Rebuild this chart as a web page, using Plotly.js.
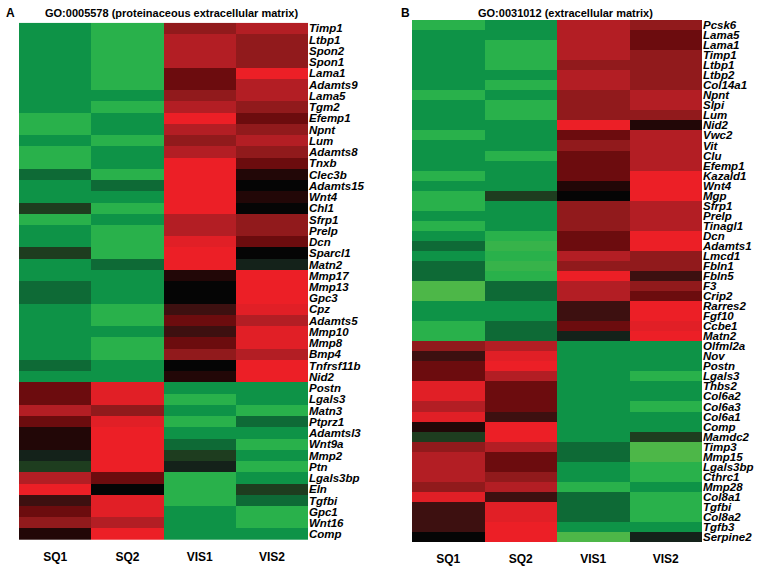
<!DOCTYPE html>
<html><head><meta charset="utf-8">
<script src="https://cdn.plot.ly/plotly-3.0.1.min.js"></script>
<style>html,body{margin:0;padding:0;background:#fff}</style>
</head><body><div id="chart" style="width:762px;height:566px"></div>
<script>
const samples = ['SQ1','SQ2','VIS1','VIS2'];

const genesA = ['Timp1','Ltbp1','Spon2','Spon1','Lama1','Adamts9','Lama5','Tgm2','Efemp1','Npnt','Lum','Adamts8','Tnxb','Clec3b','Adamts15','Wnt4','Chl1','Sfrp1','Prelp','Dcn','Sparcl1','Matn2','Mmp17','Mmp13','Gpc3','Cpz','Adamts5','Mmp10','Mmp8','Bmp4','Tnfrsf11b','Nid2','Postn','Lgals3','Matn3','Ptprz1','Adamtsl3','Wnt9a','Mmp2','Ptn','Lgals3bp','Eln','Tgfbi','Gpc1','Wnt16','Comp'];
const aSQ1  = [-1.5,-1.5,-1.5,-1.5,-1.5,-1.5,-1.5,-1.5,-2,-2,-1.5,-2,-2,-1,-1.5,-1.5,-0.5,-2,-1.5,-1.5,-0.5,-1.5,-1.5,-1,-1,-1.5,-1.5,-1.5,-1.5,-1.5,-1,-1.5, 1,1,2,1,0.25,0.25,-0.25,-0.5,2,2.5,0.5,1,1.5,0.25];
const aSQ2  = [-2,-2,-2,-2,-2,-2,-1.5,-2,-1.5,-1.5,-2,-1.5,-1.5,-2,-1,-1.5,-2,-1.5,-2,-2,-2,-1,-1.5,-1.5,-1.5,-2,-2,-1.5,-2,-2,-1.5,-1.5, 2.4,2.4,1.5,2.4,2.5,2.5,2.5,2.5,1,0,2.4,2.4,2,2.5];
const aVIS1 = [1.5,2,2,2,1,1,1.5,2,2.5,2,1.5,2,2.5,2.5,2.5,2.5,2.5,2,2,2.4,2.5,2.5,0.25,0,0,0.5,1,0.5,1,1.5,0,0.25, -1.5,-2,-1.5,-2,-1.5,-1,-0.5,-0.25,-2,-2,-2,-1.5,-1.5,-1.5];
const aVIS2 = [2,1.5,1.5,1.5,2.5,2,2,1.5,1,1.5,2,1.5,1,0.25,0,0.25,0,1.5,1.5,1,0,-0.25,2.5,2.5,2.5,2.4,2,2.4,2.4,2,2.5,2.5, -1.5,-1.5,-2,-1,-1.5,-2,-1.5,-2,-1.5,-0.5,-1,-2,-2,-1.5];

const genesB = ['Pcsk6','Lama5','Lama1','Timp1','Ltbp1','Ltbp2','Col14a1','Npnt','Slpi','Lum','Nid2','Vwc2','Vit','Clu','Efemp1','Kazald1','Wnt4','Mgp','Sfrp1','Prelp','Tinagl1','Dcn','Adamts1','Lmcd1','Fbln1','Fbln5','F3','Crip2','Rarres2','Fgf10','Ccbe1','Matn2','Olfml2a','Nov','Postn','Lgals3','Thbs2','Col6a2','Col6a3','Col6a1','Comp','Mamdc2','Timp3','Mmp15','Lgals3bp','Cthrc1','Mmp28','Col8a1','Tgfbi','Col8a2','Tgfb3','Serpine2'];
const bSQ1  = [-2,-1.5,-1.5,-1.5,-1.5,-1.5,-1.5,-2,-1.5,-1.5,-1.5,-2,-1.5,-1.5,-1.5,-2,-1.5,-2,-2,-1.5,-2,-1.5,-1,-1.5,-1,-1,-2.5,-2.5,-1.5,-1.5,-2,-2, 1.5,0.5,1,1,2.4,2.4,2,2.4,0.25,-0.5,1.5,2,2,2,1.5,2.4,0.5,0.5,0.5,0];
const bSQ2  = [-1.5,-1.5,-2,-2,-2,-1.5,-2,-1.5,-2,-2,-1.5,-1.5,-1.5,-2,-1.5,-1.5,-1.5,-0.5,-1.5,-1.5,-1.5,-2,-2.2,-2,-2.2,-2,-1,-1,-1.5,-1.5,-1,-1, 2,2.4,2.5,2,1,1,1,0.5,2.5,2.5,2,1,1,1.5,2,0.5,2.4,2.4,2.5,2.5];
const bVIS1 = [2,2,2,2,1.5,2,2,1.5,1.5,1.5,2.5,1,1.5,1,1,1,0.25,0,1.5,1.5,1.5,1,1,2,1.5,2.5,2,2,0.5,0.5,1,-0.25, -1.5,-1.5,-1.5,-1.5,-1.5,-1.5,-1.5,-1.5,-1.5,-1.5,-1,-1,-1.5,-1.5,-2,-1,-1,-1,-1.5,-2.5];
const bVIS2 = [1.5,1,1,1.5,1.5,1.5,1.5,2,2,1.5,0.25,2,2,2,2,2.5,2.5,2.5,2,2,2,2.5,2.5,1.5,1.5,0.5,1.5,1,2.5,2.5,2.4,2.5, -1.5,-1.5,-1.5,-2,-1.5,-1.5,-2,-1.5,-1.5,-0.5,-2.5,-2.5,-2,-2,-1.5,-2,-2,-2,-1.5,-0.25];

function matrix(genes, cols) { return genes.map((g, i) => cols.map(c => c[i])); }

const cscale = [
  [0.00,'#4db748'],[0.10,'#29b14b'],[0.20,'#0e9347'],[0.30,'#0e6a36'],[0.40,'#1e3d1f'],[0.45,'#14221a'],
  [0.50,'#050505'],[0.55,'#220707'],[0.60,'#3d1010'],[0.70,'#6c0c0e'],[0.80,'#911a1c'],[0.90,'#b31e24'],[1.00,'#ec1f26']
];

const common = {type:'heatmap', x: samples, colorscale: cscale, zmin:-2.5, zmax:2.5, showscale:false, zsmooth:false, hoverongaps:false};

const traces = [
  Object.assign({}, common, {z: matrix(genesA,[aSQ1,aSQ2,aVIS1,aVIS2]), y: genesA, xaxis:'x', yaxis:'y'}),
  Object.assign({}, common, {z: matrix(genesB,[bSQ1,bSQ2,bVIS1,bVIS2]), y: genesB, xaxis:'x2', yaxis:'y2'})
];

const tickFontY = {family:'Liberation Sans, Arial, sans-serif', size:11.5, color:'#000', weight:'bold', style:'italic'};
const tickFontX = {family:'Liberation Sans, Arial, sans-serif', size:12, color:'#000', weight:'bold'};
const xBase = {showgrid:false, zeroline:false, showline:false, ticks:'outside', ticklen:6, tickcolor:'rgba(0,0,0,0)', tickfont:tickFontX, fixedrange:true};
const yBase = {showgrid:false, zeroline:false, showline:false, ticks:'', side:'right', autorange:'reversed', tickfont:tickFontY, fixedrange:true, type:'category', tickmode:'array'};

const W = 762, H = 566;
const layout = {
  width: W, height: H,
  margin:{l:0,r:0,t:0,b:0},
  paper_bgcolor:'#fff', plot_bgcolor:'#fff',
  xaxis: Object.assign({}, xBase, {domain:[19/W, 308/W], anchor:'y'}),
  yaxis: Object.assign({}, yBase, {domain:[1-540/H, 1-22.7/H], anchor:'x', tickvals: genesA, ticktext: genesA}),
  xaxis2: Object.assign({}, xBase, {domain:[412/W, 702/W], anchor:'y2'}),
  yaxis2: Object.assign({}, yBase, {domain:[1-542/H, 1-20/H], anchor:'x2', tickvals: genesB, ticktext: genesB}),
  annotations: [
    {text:'<b>A</b>', xref:'paper', yref:'paper', x:10/W, y:1-13/H, showarrow:false, xanchor:'center', yanchor:'middle', font:{family:'Liberation Sans, Arial', size:12, color:'#000'}},
    {text:'<b>GO:0005578 (proteinaceous extracellular matrix)</b>', xref:'paper', yref:'paper', x:171/W, y:1-13/H, showarrow:false, xanchor:'center', yanchor:'middle', font:{family:'Liberation Sans, Arial', size:11, color:'#000'}},
    {text:'<b>B</b>', xref:'paper', yref:'paper', x:405/W, y:1-13/H, showarrow:false, xanchor:'center', yanchor:'middle', font:{family:'Liberation Sans, Arial', size:12, color:'#000'}},
    {text:'<b>GO:0031012 (extracellular matrix)</b>', xref:'paper', yref:'paper', x:565/W, y:1-13/H, showarrow:false, xanchor:'center', yanchor:'middle', font:{family:'Liberation Sans, Arial', size:11, color:'#000'}}
  ]
};

Plotly.newPlot('chart', traces, layout, {displayModeBar:false, staticPlot:true});
</script>
</body></html>
